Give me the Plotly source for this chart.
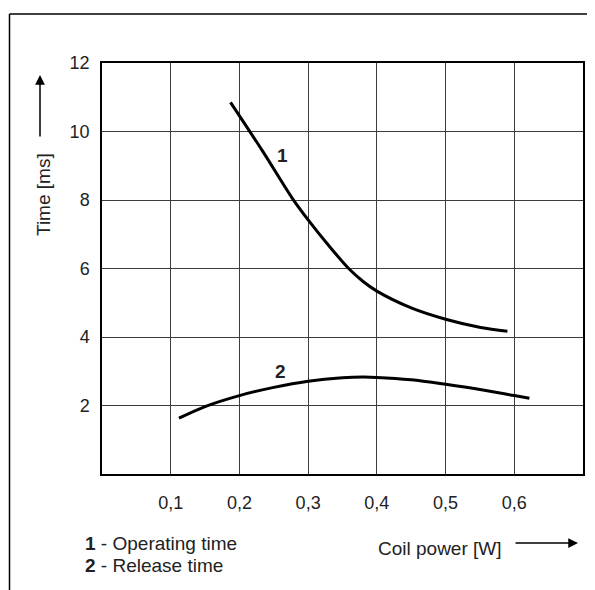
import plotly.graph_objects as go

# Data
op_power = [0.187, 0.234, 0.277, 0.30, 0.332, 0.359, 0.38, 0.40, 0.45, 0.50, 0.551, 0.59]
op_time = [10.85, 9.42, 8.05, 7.42, 6.62, 6.0, 5.62, 5.34, 4.85, 4.52, 4.28, 4.17]

rel_power = [0.112, 0.15, 0.20, 0.25, 0.30, 0.35, 0.38, 0.40, 0.45, 0.50, 0.55, 0.60, 0.622]
rel_time = [1.63, 1.97, 2.29, 2.53, 2.71, 2.81, 2.83, 2.82, 2.75, 2.62, 2.47, 2.29, 2.21]

x_ticks = [0.1, 0.2, 0.3, 0.4, 0.5, 0.6]
x_tick_labels = ["0,1", "0,2", "0,3", "0,4", "0,5", "0,6"]
y_ticks = [2, 4, 6, 8, 10, 12]
y_tick_labels = ["2", "4", "6", "8", "10", "12"]

FONT = "Liberation Sans, Arial, sans-serif"
OFF = 8  # page body margin
W, H = 595 - OFF, 590 - OFF
L, R, T, B = 94, 12, 55, 116
PW, PH = W - L - R, H - T - B


def px(xr):
    return (xr - OFF - L) / PW


def py(yr):
    return (H - B - (yr - OFF)) / PH


fig = go.Figure()
fig.add_trace(go.Scatter(x=op_power, y=op_time, mode="lines",
                         line=dict(color="black", width=3, shape="spline", smoothing=0.9),
                         showlegend=False, hoverinfo="skip"))
fig.add_trace(go.Scatter(x=rel_power, y=rel_time, mode="lines",
                         line=dict(color="black", width=3, shape="spline", smoothing=0.9),
                         showlegend=False, hoverinfo="skip"))

axis_common = dict(showgrid=True, gridcolor="#3c3c3c", gridwidth=1,
                   showline=True, linecolor="black", linewidth=1.5, mirror=True,
                   zeroline=False, ticks="",
                   tickfont=dict(family=FONT, size=18, color="#222"))

fig.update_xaxes(range=[0, 0.7], tickvals=x_ticks, ticktext=x_tick_labels,
                 ticklabelstandoff=12, **axis_common)
fig.update_yaxes(range=[0, 12], tickvals=y_ticks, ticktext=y_tick_labels,
                 ticklabelstandoff=7, **axis_common)

shapes = [
    dict(type="line", xref="paper", yref="paper", x0=px(9.5), x1=px(600),
         y0=py(14), y1=py(14), line=dict(color="black", width=1.5)),
    dict(type="line", xref="paper", yref="paper", x0=px(9.5), x1=px(9.5),
         y0=py(14), y1=py(600), line=dict(color="black", width=1.5)),
]

txt = dict(family=FONT, size=19, color="#222")
annotations = [
    dict(text="Time [ms]", xref="paper", yref="paper", x=px(43), y=py(195),
         xanchor="center", yanchor="middle", textangle=-90, showarrow=False, font=txt),
    dict(text="", xref="paper", yref="paper", x=px(40), y=py(75), ax=0, ay=63,
         showarrow=True, arrowhead=2, arrowsize=1.3, arrowwidth=1.5, arrowcolor="black"),
    dict(text="Coil power [W]", xref="paper", yref="paper", x=px(440), y=py(548),
         xanchor="center", yanchor="middle", showarrow=False, font=txt),
    dict(text="", xref="paper", yref="paper", x=px(578), y=py(543), ax=-64, ay=0,
         showarrow=True, arrowhead=2, arrowsize=1.3, arrowwidth=1.5, arrowcolor="black"),
    dict(text="<b>1</b> - Operating time", xref="paper", yref="paper", x=px(83), y=py(543),
         xanchor="left", yanchor="middle", showarrow=False, font=txt),
    dict(text="<b>2</b> - Release time", xref="paper", yref="paper", x=px(83), y=py(565),
         xanchor="left", yanchor="middle", showarrow=False, font=txt),
    dict(text="<b>1</b>", xref="paper", yref="paper", x=px(282), y=py(155),
         xanchor="center", yanchor="middle", showarrow=False,
         font=dict(family=FONT, size=19, color="#222")),
    dict(text="<b>2</b>", xref="paper", yref="paper", x=px(280), y=py(371),
         xanchor="center", yanchor="middle", showarrow=False,
         font=dict(family=FONT, size=19, color="#222")),
]

fig.update_layout(width=W, height=H, margin=dict(l=L, r=R, t=T, b=B, autoexpand=False),
                  plot_bgcolor="white", paper_bgcolor="white",
                  shapes=shapes, annotations=annotations, showlegend=False)

fig.write_html("out.html")
